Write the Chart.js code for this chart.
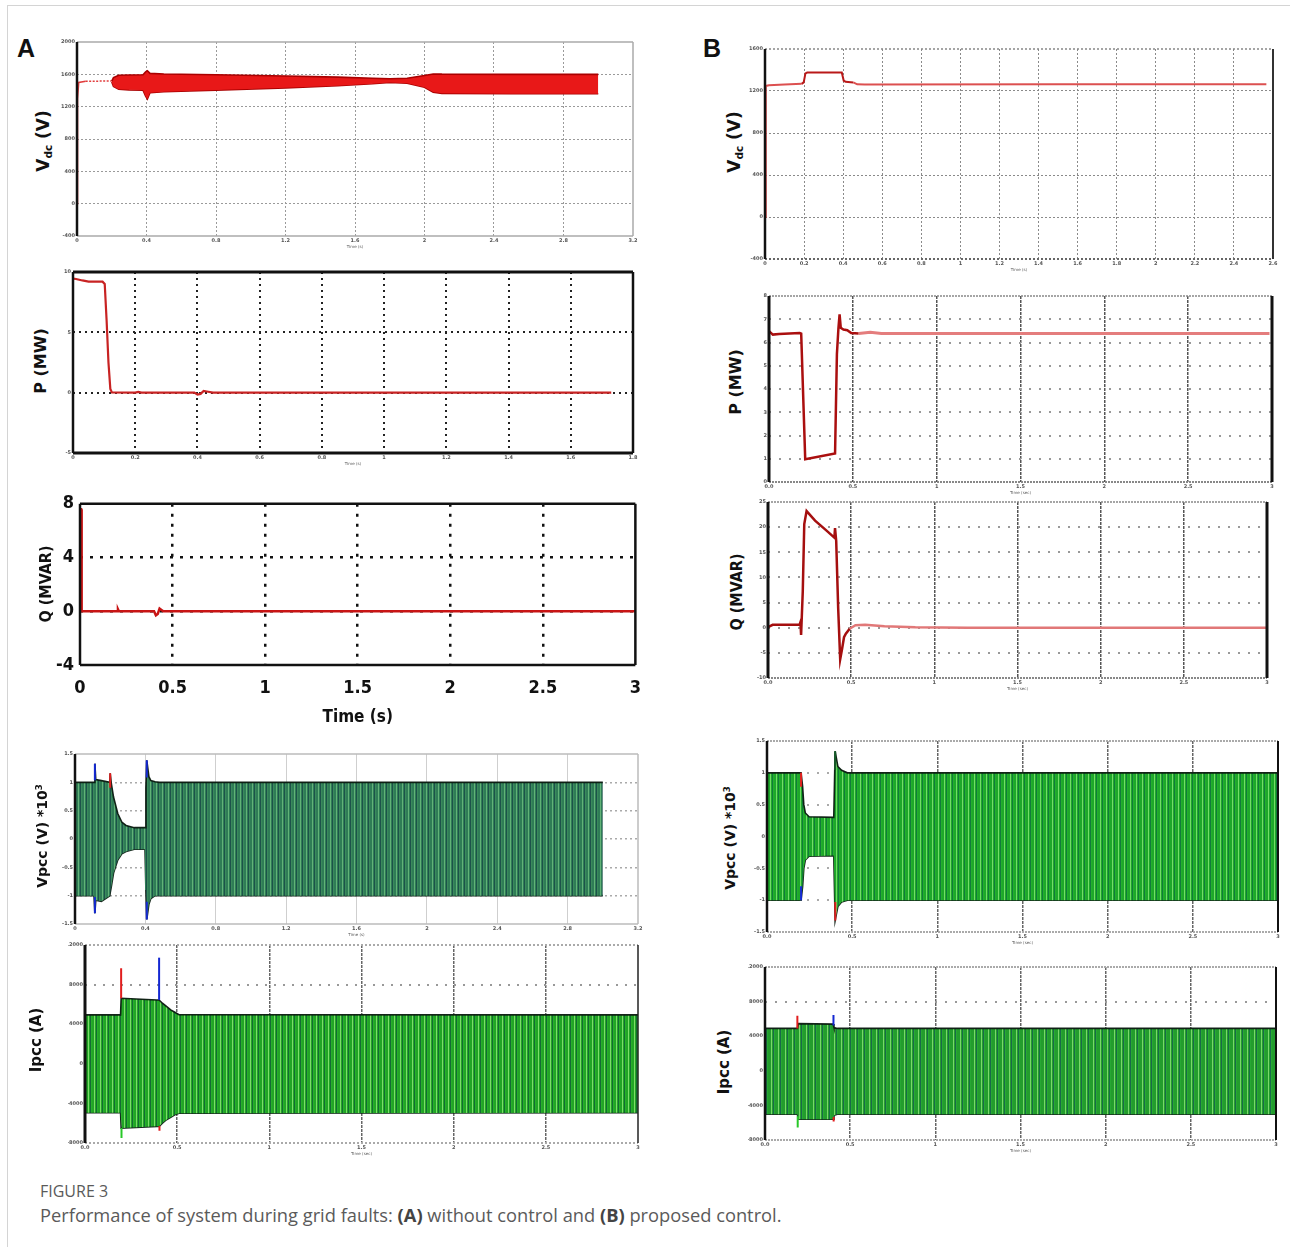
<!DOCTYPE html>
<html>
<head>
<meta charset="utf-8">
<title>Figure 3 - performance during grid faults</title>
<script src="https://cdn.jsdelivr.net/npm/chart.js@4.4.1/dist/chart.umd.min.js"></script>
<style>
  html, body { margin: 0; background: #fff; }
  #fig { position: relative; width: 1290px; height: 1247px; overflow: hidden; }
  #fig canvas { position: absolute; }
  #box { position: absolute; left: 7px; top: 5px; width: 1300px; height: 1260px; border-left: 1px solid #d4d4d4; border-top: 1px solid #d4d4d4; }
  .tag { position: absolute; font: bold 25px 'Liberation Sans', Arial, sans-serif; color: #111; line-height: 1; }
  .ylab { position: absolute; white-space: nowrap; transform: translate(-50%, -50%) rotate(-90deg); font-family: 'DejaVu Sans', sans-serif; font-weight: bold; color: #111; line-height: 1; z-index: 2; }
  .ylab sub { font-size: 62%; vertical-align: -0.25em; }
  .ylab sup { font-size: 62%; vertical-align: 0.6em; }
  .narrow { font-family: 'Liberation Sans Narrow', 'DejaVu Sans Condensed', Roboto, sans-serif; }
  .cap { position: absolute; left: 40px; font-family: 'Open Sans', Lato, sans-serif; color: #5a5a5a; white-space: nowrap; line-height: 1; }
  .cap b { color: #444; }
</style>
</head>
<body>
<div id="fig">
  <div id="box"></div>
  <div class="tag" style="left:17px;top:36px">A</div>
  <div class="tag" style="left:703px;top:36px">B</div>

  <canvas id="vdcA"></canvas>
  <canvas id="pA"></canvas>
  <canvas id="qA"></canvas>
  <canvas id="vpccA"></canvas>
  <canvas id="ipccA"></canvas>
  <canvas id="vdcB"></canvas>
  <canvas id="pB"></canvas>
  <canvas id="qB"></canvas>
  <canvas id="vpccB"></canvas>
  <canvas id="ipccB"></canvas>

  <div class="ylab" style="left:44px;top:141px;font-size:17px">V<sub>dc</sub> (V)</div>
  <div class="ylab" style="left:41px;top:361px;font-size:16px">P (MW)</div>
  <div class="ylab narrow" style="left:46px;top:584px;font-size:16px">Q (MVAR)</div>
  <div class="ylab" style="left:42px;top:836px;font-size:14px">Vpcc (V) *10<sup>3</sup></div>
  <div class="ylab" style="left:36px;top:1040px;font-size:15px">Ipcc (A)</div>
  <div class="ylab" style="left:735px;top:142px;font-size:17px">V<sub>dc</sub> (V)</div>
  <div class="ylab" style="left:736px;top:382px;font-size:16px">P (MW)</div>
  <div class="ylab narrow" style="left:737px;top:592px;font-size:16px">Q (MVAR)</div>
  <div class="ylab" style="left:730px;top:838px;font-size:14px">Vpcc (V) *10<sup>3</sup></div>
  <div class="ylab" style="left:724px;top:1062px;font-size:15px">Ipcc (A)</div>

  <div class="cap" style="top:1183px;font-size:16px">FIGURE 3</div>
  <div class="cap" style="top:1206px;font-size:18.3px">Performance of system during grid faults: <b>(A)</b> without control and <b>(B)</b> proposed control.</div>
</div>

<script>
// ---------- tick values ----------
var tA_x32 = [0, 0.4, 0.8, 1.2, 1.6, 2, 2.4, 2.8, 3.2];
var tA_x18 = [0, 0.2, 0.4, 0.6, 0.8, 1, 1.2, 1.4, 1.6, 1.8];
var t_x3 = [0, 0.5, 1, 1.5, 2, 2.5, 3];
var tB_x26 = [0, 0.2, 0.4, 0.6, 0.8, 1, 1.2, 1.4, 1.6, 1.8, 2, 2.2, 2.4, 2.6];
var vdcA_yt = [-400, 0, 400, 800, 1200, 1600, 2000];
var pA_yt = [-5, 0, 5, 10];
var qA_yt = [-4, 0, 4, 8];
var vpcc_yt = [-1.5, -1, -0.5, 0, 0.5, 1, 1.5];
var ipcc_yt = [-8000, -4000, 0, 4000, 8000, 12000];
var vdcB_yt = [-400, 0, 400, 800, 1200, 1600];
var pB_yt = [0, 1, 2, 3, 4, 5, 6, 7, 8];
var qB_yt = [-10, -5, 0, 5, 10, 15, 20, 25];

// ---------- (A) without control ----------
var vdcA_t0 = [0, 0.003, 0.01, 0.05, 0.2];
var vdcA_v0 = [0, 1300, 1500, 1515, 1517];
var vdcA_t  = [0.2, 0.21, 0.24, 0.3, 0.38, 0.395, 0.405, 0.42, 0.5, 0.8, 1.2, 1.5, 1.7, 1.8, 1.9, 2.0, 2.05, 2.1, 2.5, 3.0];
var vdcA_hi = [1515, 1560, 1588, 1592, 1595, 1630, 1645, 1612, 1605, 1595, 1580, 1565, 1552, 1546, 1552, 1585, 1605, 1602, 1600, 1600];
var vdcA_lo = [1505, 1450, 1415, 1408, 1405, 1330, 1296, 1372, 1385, 1405, 1433, 1460, 1483, 1500, 1490, 1440, 1380, 1365, 1360, 1360];

var pA_t = [0, 0.01, 0.03, 0.05, 0.095, 0.102, 0.108, 0.114, 0.12, 0.125, 0.2, 0.21, 0.22, 0.39, 0.4, 0.41, 0.42, 0.43, 0.45, 1.73];
var pA_v = [9.45, 9.42, 9.3, 9.2, 9.2, 9.0, 6.0, 2.5, 0.3, 0.02, 0, 0.07, 0, 0, -0.15, -0.1, 0.15, 0.1, 0, 0];

var qA_t = [0, 0.006, 0.009, 0.2, 0.205, 0.21, 0.4, 0.41, 0.42, 0.43, 0.44, 0.45, 3];
var qA_v = [7.6, 7.6, 0, 0, 0.15, 0, 0, -0.3, -0.2, 0.2, 0.1, 0, 0];

var vpccA_t  = [0, 0.108, 0.113, 0.118, 0.15, 0.198, 0.2, 0.207, 0.219, 0.243, 0.266, 0.29, 0.337, 0.398, 0.403, 0.408, 0.42, 0.431, 0.455, 0.48, 3.0];
var vpccA_hi = [1.0, 1.0, 1.33, 1.05, 1.03, 1.0, 1.16, 0.97, 0.74, 0.45, 0.3, 0.24, 0.2, 0.2, 0.9, 1.39, 1.1, 1.03, 1.01, 1.0, 1.0];
var vpccA_lo = [-1.0, -1.0, -1.31, -1.08, -1.1, -1.0, -0.95, -0.83, -0.6, -0.37, -0.26, -0.22, -0.18, -0.18, -0.9, -1.42, -1.15, -1.05, -1.0, -1.0, -1.0];
var vpccA_spT = [0.113, 0.113, 0.2, 0.408, 0.408];
var vpccA_spV = [1.33, -1.31, 1.16, 1.39, -1.42];

var ipccA_t  = [0, 0.193, 0.196, 0.2, 0.39, 0.402, 0.42, 0.442, 0.465, 0.487, 0.51, 3.0];
var ipccA_hi = [4940, 4940, 6620, 6620, 6450, 6450, 6120, 5790, 5450, 5210, 4960, 4940];
var ipccA_lo = [-4950, -4950, -6490, -6490, -6320, -6320, -5990, -5650, -5410, -5150, -4990, -4950];
var ipccA_spT = [0.196, 0.198, 0.402, 0.404];
var ipccA_spV = [9650, -7500, 10720, -6760];

// ---------- (B) proposed control ----------
var vdcB_t = [0, 0.004, 0.02, 0.1, 0.188, 0.198, 0.207, 0.216, 0.393, 0.403, 0.413, 0.452, 0.472, 0.51, 1.5, 2.566];
var vdcB_v = [0, 1248, 1254, 1262, 1268, 1282, 1368, 1376, 1376, 1298, 1288, 1282, 1264, 1261, 1264, 1264];

var pB_t = [0, 0.023, 0.06, 0.183, 0.192, 0.216, 0.394, 0.405, 0.414, 0.421, 0.428, 0.444, 0.467, 0.49, 0.535, 0.604, 0.67, 2.985];
var pB_v = [6.49, 6.34, 6.37, 6.41, 6.38, 0.98, 1.23, 5.5, 6.6, 7.21, 6.63, 6.56, 6.53, 6.41, 6.39, 6.44, 6.39, 6.39];

var qB_t = [0, 0.028, 0.19, 0.195, 0.199, 0.209, 0.218, 0.232, 0.283, 0.352, 0.399, 0.403, 0.41, 0.422, 0.434, 0.445, 0.457, 0.468, 0.491, 0.526, 0.584, 0.7, 0.886, 1.2, 2.995];
var qB_v = [0.1, 0.57, 0.6, 1.1, -1.45, 7.2, 20.6, 23.2, 21.3, 19.3, 17.9, 19.8, 17.3, 3.8, -6.3, -4.3, -1.9, -1.2, -0.2, 0.5, 0.6, 0.3, 0.1, 0, 0];

var vpccB_t  = [0, 0.2, 0.209, 0.216, 0.225, 0.247, 0.392, 0.4, 0.416, 0.438, 0.472, 3.0];
var vpccB_hi = [1, 1, 0.79, 0.5, 0.37, 0.31, 0.3, 1.34, 1.1, 1.04, 1.0, 1.0];
var vpccB_lo = [-1, -1, -0.79, -0.5, -0.37, -0.31, -0.3, -1.32, -1.1, -1.03, -1.0, -1.0];
var vpccB_spT = [0.2, 0.2, 0.4, 0.401];
var vpccB_spV = [1.0, -1.0, 1.34, -1.32];

var ipccB_t  = [0, 0.19, 0.195, 0.4, 0.405, 0.425, 3.0];
var ipccB_hi = [4900, 4900, 5450, 5400, 5000, 4900, 4900];
var ipccB_lo = [-5020, -5020, -5600, -5600, -5150, -5020, -5020];
var ipccB_spT = [0.19, 0.192, 0.402, 0.403];
var ipccB_spV = [6370, -6560, 6450, -5870];

// ---------- helpers ----------
var tiny = { family: 'DejaVu Sans', size: 5, weight: 'bold' };
var narrow = "'Liberation Sans Narrow', 'DejaVu Sans Condensed', Roboto, sans-serif";
var RED = 'rgb(225,30,30)', BLUE = 'rgb(20,40,210)', GREEN = 'rgb(40,200,40)';

function pts(t, v) {
    return t.map(function (x, i) { return { x: x, y: v[i] }; });
}

// linear lookup in a band edge
function at(x, ts, vs) {
    for (var i = 1; i < ts.length; i++) {
        if (x <= ts[i]) {
            var f = (x - ts[i - 1]) / (ts[i] - ts[i - 1]);
            return vs[i - 1] + f * (vs[i] - vs[i - 1]);
        }
    }
    return vs[vs.length - 1];
}

// vertical spike marks, from the band edge out to the peak
function spikes(t, v, idx, color, bt, bhi, blo) {
    var d = [];
    idx.forEach(function (i) {
        var base = at(t[i], bt, v[i] > 0 ? bhi : blo);
        if (Math.abs(base) >= Math.abs(v[i]) * 0.95) base = v[i] * 0.78;
        d.push({ x: t[i], y: base }, { x: t[i], y: v[i] }, { x: t[i], y: null });
    });
    return { data: d, borderColor: color, borderWidth: 2, order: -1, fill: false };
}

function band(t, hi, lo, fillStyle, edge) {
    return [
        { data: pts(t, hi), borderColor: edge, borderWidth: 1.6, backgroundColor: fillStyle, fill: '+1' },
        { data: pts(t, lo), borderColor: edge, borderWidth: 1.6, fill: false }
    ];
}

function stripes(cols) {
    var c = document.createElement('canvas');
    c.width = cols.length; c.height = 4;
    var g = c.getContext('2d');
    cols.forEach(function (col, i) { g.fillStyle = col; g.fillRect(i, 0, 1, 4); });
    return g.createPattern(c, 'repeat');
}

function edgeless(col) {
    return function (c) {
        return (c.index === 0 || c.index === c.scale.ticks.length - 1) ? 'rgba(0,0,0,0)' : col;
    };
}

function fmt0(v) { return String(v); }
function fmtB(v) { return v === 0 ? '0.0' : String(v); }

function axisOpts(a, size, horiz) {
    var tk = a.ticks;
    return {
        type: 'linear', min: tk[0], max: tk[tk.length - 1],
        afterBuildTicks: function (s) { s.ticks = tk.map(function (v) { return { value: v }; }); },
        afterFit: function (s) { if (horiz) { s.height = size; } else { s.width = size; } },
        ticks: { autoSkip: false, maxRotation: 0, padding: a.pad || 2, color: a.tc || '#555',
                 font: a.font || tiny, callback: a.fmt || fmt0 },
        grid: { drawTicks: false, lineWidth: a.gw || 1, color: edgeless(a.gc || '#999') },
        border: { display: false, dash: a.dash || [] },
        title: a.title ? { display: true, text: a.title, color: a.tc || '#555', font: a.tfont || { family: 'DejaVu Sans', size: 4 },
                           padding: a.tpad || { top: 0, bottom: 0 } } : { display: false }
    };
}

var framePlugin = {
    id: 'frame',
    afterDatasetsDraw: function (chart, args, o) {
        var a = chart.chartArea, g = chart.ctx;
        [['top', a.left, a.top, a.right, a.top], ['bottom', a.left, a.bottom, a.right, a.bottom],
         ['left', a.left, a.top, a.left, a.bottom], ['right', a.right, a.top, a.right, a.bottom]].forEach(function (s) {
            var st = o[s[0]];
            if (!st) return;
            g.save();
            g.strokeStyle = st.c; g.lineWidth = st.w; g.setLineDash(st.d || []);
            g.beginPath(); g.moveTo(s[1], s[2]); g.lineTo(s[3], s[4]); g.stroke();
            g.restore();
        });
    }
};

function side(c, w, d) { return { c: c, w: w, d: d }; }

function panel(id, box, o) {
    var yW = o.yW || 17, xH = o.xH || 13, pT = o.pT || 6, pR = o.pR || 9;
    var cv = document.getElementById(id);
    cv.width = box[2] - box[0] + yW + pR;
    cv.height = box[3] - box[1] + pT + xH;
    cv.style.left = (box[0] - yW) + 'px';
    cv.style.top = (box[1] - pT) + 'px';
    return new Chart(cv, {
        type: 'line',
        data: { datasets: o.datasets },
        options: {
            responsive: false, animation: false, events: [],
            layout: { padding: { top: pT, right: pR, left: 0, bottom: 0 } },
            elements: { point: { radius: 0 }, line: { tension: 0, borderCapStyle: 'butt' } },
            plugins: { legend: { display: false }, tooltip: { enabled: false }, frame: o.frame },
            scales: { x: axisOpts(o.x, xH, true), y: axisOpts(o.y, yW, false) }
        },
        plugins: [framePlugin]
    });
}

// ---------- fills ----------
var fillVA = stripes(['#2f7d56', '#2f7d56', '#62b278', '#2f7d56', '#1d524a', '#3a8a5c']);
var fillIA = stripes(['#22a526', '#22a526', '#7ddc6a', '#22a526', '#156a35', '#26b02a']);
var fillVB = stripes(['#1ea82a', '#1ea82a', '#74dc68', '#1ea82a', '#137a3c', '#22b02c']);
var fillIB = stripes(['#239d2d', '#239d2d', '#7ad86a', '#239d2d', '#1a6a4a', '#27a833', '#239d2d']);
var EDGE = 'rgba(10,25,15,0.95)';

// ---------- (A) ----------
panel('vdcA', [77, 42, 633, 236], {
    x: { ticks: tA_x32, title: 'Time (s)', gc: '#9a9a9a', dash: [2, 2] },
    y: { ticks: vdcA_yt, gc: '#9a9a9a', dash: [2, 2] },
    frame: { left: side('#111', 2.5), top: side('#aaa', 1.5), right: side('#aaa', 1.5), bottom: side('#aaa', 1.5) },
    datasets: band(vdcA_t, vdcA_hi, vdcA_lo, 'rgb(232,24,24)', 'rgb(170,0,0)').concat([
        { data: pts(vdcA_t0, vdcA_v0), borderColor: 'rgb(225,60,60)', borderWidth: 1.5, fill: false,
          segment: { borderDash: function (s) { return s.p0.parsed.x > 0.02 ? [2, 1.5] : undefined; } } }
    ])
});

panel('pA', [73, 272, 633, 453], {
    x: { ticks: tA_x18, title: 'Time (s)', gc: '#222', gw: 2, dash: [2, 4] },
    y: { ticks: pA_yt, gc: '#222', gw: 2, dash: [2, 4] },
    frame: { left: side('#111', 2.5), top: side('#111', 3), right: side('#111', 2.5), bottom: side('#111', 3) },
    datasets: [{ data: pts(pA_t, pA_v), borderColor: 'rgb(200,35,35)', borderWidth: 2.2, fill: false }]
});

var bigTick = { family: narrow, size: 18, weight: 'bold' };
panel('qA', [80, 497, 642, 665], {
    yW: 30, xH: 67, pT: 10, pR: 12,
    x: { ticks: t_x3, gc: '#111', gw: 2.5, dash: [3, 7], font: bigTick, tc: '#111', pad: 13,
         title: 'Time (s)', tfont: { family: narrow, size: 17, weight: 'bold' }, tpad: { top: 0, bottom: 4 } },
    y: { ticks: qA_yt, gc: '#111', gw: 2.5, dash: [3, 7], font: bigTick, tc: '#111', pad: 6 },
    frame: { left: side('#111', 2.5), top: side('#111', 2.5), right: side('#111', 2.5), bottom: side('#111', 2.5) },
    datasets: [{ data: pts(qA_t, qA_v), borderColor: 'rgb(200,20,20)', borderWidth: 2.5, fill: false }]
});

panel('vpccA', [75, 754, 638, 924], {
    x: { ticks: tA_x32, title: 'Time (s)', gc: '#cfcfcf' },
    y: { ticks: vpcc_yt, gc: '#aaa', gw: 1.5, dash: [2, 3] },
    frame: { left: side('#111', 2.5), top: side('#bbb', 1.5), right: side('#bbb', 1.5), bottom: side('#bbb', 1.5) },
    datasets: band(vpccA_t, vpccA_hi, vpccA_lo, fillVA, EDGE).concat([
        spikes(vpccA_spT, vpccA_spV, [0, 1, 3, 4], BLUE, vpccA_t, vpccA_hi, vpccA_lo),
        spikes(vpccA_spT, vpccA_spV, [2], RED, vpccA_t, vpccA_hi, vpccA_lo)
    ])
});

panel('ipccA', [85, 945, 638, 1143], {
    x: { ticks: t_x3, title: 'Time (sec)', fmt: fmtB, gc: '#666', gw: 1.5, dash: [3, 1] },
    y: { ticks: ipcc_yt, gc: '#999', gw: 2, dash: [2, 7] },
    frame: { left: side('#111', 3), right: side('#222', 1.5), top: side('#aaa', 2, [2, 2]), bottom: side('#aaa', 2, [2, 2]) },
    datasets: band(ipccA_t, ipccA_hi, ipccA_lo, fillIA, EDGE).concat([
        spikes(ipccA_spT, ipccA_spV, [0, 3], RED, ipccA_t, ipccA_hi, ipccA_lo),
        spikes(ipccA_spT, ipccA_spV, [1], GREEN, ipccA_t, ipccA_hi, ipccA_lo),
        spikes(ipccA_spT, ipccA_spV, [2], BLUE, ipccA_t, ipccA_hi, ipccA_lo)
    ])
});

// ---------- (B) ----------
panel('vdcB', [765, 49, 1273, 259], {
    x: { ticks: tB_x26, title: 'Time (s)', gc: '#8a8a8a', dash: [2, 2] },
    y: { ticks: vdcB_yt, gc: '#8a8a8a', dash: [2, 2] },
    frame: { left: side('#111', 2.5), right: side('#333', 2), top: side('#888', 1.5, [2, 2]), bottom: side('#666', 2, [2, 2]) },
    datasets: [{ data: pts(vdcB_t, vdcB_v), borderWidth: 2, fill: false, borderColor: 'rgb(220,80,80)',
                 segment: { borderColor: function (s) { return (s.p0.parsed.x > 0.18 && s.p0.parsed.x < 0.45) ? 'rgb(185,25,25)' : 'rgb(220,80,80)'; } } }]
});

panel('pB', [769, 296, 1272, 482], {
    x: { ticks: t_x3, title: 'Time (sec)', fmt: fmtB, gc: '#555', gw: 1.5, dash: [3, 1] },
    y: { ticks: pB_yt, gc: '#999', gw: 2, dash: [2, 8] },
    frame: { left: side('#111', 3), right: side('#111', 3), top: side('#888', 1.5, [2, 1]), bottom: side('#888', 2, [2, 1]) },
    datasets: [{ data: pts(pB_t, pB_v), fill: false, borderColor: 'rgb(170,15,15)', borderWidth: 2.5,
                 segment: { borderColor: function (s) { return s.p0.parsed.x < 0.5 ? 'rgb(170,15,15)' : 'rgb(228,125,125)'; },
                            borderWidth: function (s) { return s.p0.parsed.x < 0.5 ? 2.5 : 3; } } }]
});

panel('qB', [768, 502, 1267, 678], {
    x: { ticks: t_x3, title: 'Time (sec)', fmt: fmtB, gc: '#555', gw: 1.5, dash: [3, 1] },
    y: { ticks: qB_yt, gc: '#999', gw: 2, dash: [2, 8] },
    frame: { left: side('#111', 3), right: side('#111', 3), top: side('#888', 1.5, [2, 1]), bottom: side('#888', 2, [2, 1]) },
    datasets: [{ data: pts(qB_t, qB_v), fill: false, borderColor: 'rgb(165,15,15)', borderWidth: 2.5,
                 segment: { borderColor: function (s) { return s.p0.parsed.x < 0.47 ? 'rgb(165,15,15)' : 'rgb(225,120,120)'; } } }]
});

panel('vpccB', [767, 741, 1278, 932], {
    x: { ticks: t_x3, title: 'Time (sec)', fmt: fmtB, gc: '#666', gw: 1.5, dash: [3, 1] },
    y: { ticks: vpcc_yt, gc: '#aaa', gw: 2, dash: [2, 8] },
    frame: { left: side('#111', 2.5), right: side('#111', 2), top: side('#aaa', 2, [2, 1]), bottom: side('#aaa', 2, [2, 1]) },
    datasets: band(vpccB_t, vpccB_hi, vpccB_lo, fillVB, EDGE).concat([
        spikes(vpccB_spT, vpccB_spV, [0, 3], RED, vpccB_t, vpccB_hi, vpccB_lo),
        spikes(vpccB_spT, vpccB_spV, [1], BLUE, vpccB_t, vpccB_hi, vpccB_lo),
        spikes(vpccB_spT, vpccB_spV, [2], 'rgb(20,90,40)', vpccB_t, vpccB_hi, vpccB_lo)
    ])
});

panel('ipccB', [765, 967, 1276, 1140], {
    x: { ticks: t_x3, title: 'Time (sec)', fmt: fmtB, gc: '#666', gw: 1.5, dash: [3, 1] },
    y: { ticks: ipcc_yt, gc: '#999', gw: 2, dash: [2, 8] },
    frame: { left: side('#111', 2.5), right: side('#111', 2), top: side('#aaa', 2, [2, 1]), bottom: side('#aaa', 2, [2, 1]) },
    datasets: band(ipccB_t, ipccB_hi, ipccB_lo, fillIB, EDGE).concat([
        spikes(ipccB_spT, ipccB_spV, [0, 3], RED, ipccB_t, ipccB_hi, ipccB_lo),
        spikes(ipccB_spT, ipccB_spV, [1], GREEN, ipccB_t, ipccB_hi, ipccB_lo),
        spikes(ipccB_spT, ipccB_spV, [2], BLUE, ipccB_t, ipccB_hi, ipccB_lo)
    ])
});
</script>
</body>
</html>
